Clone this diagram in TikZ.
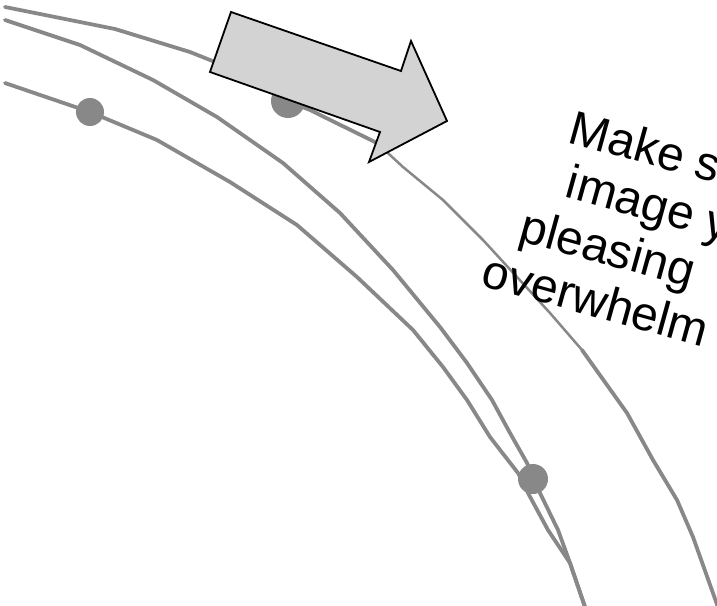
\documentclass[tikz,border=0pt]{standalone}
\usepackage{fontspec}
\setmainfont{Liberation Sans}
\definecolor{curvegray}{HTML}{888888}
\definecolor{arrowfill}{HTML}{D3D3D3}
\tikzset{
  curve/.style={draw=curvegray, line width=3.8pt, line join=round, line cap=round},
  thincurve/.style={draw=curvegray, line width=2.5pt, line join=round, line cap=round},
  dot/.style={circle, fill=curvegray, inner sep=0pt, minimum size=#1},
  bigarrow/.style={draw=black, fill=arrowfill, line width=1.8pt, line join=miter},
  caption/.style={font=\fontsize{48}{56}\selectfont, inner sep=0pt, anchor=base west, rotate=-15.5}
}
\begin{document}
\begin{tikzpicture}[x=1pt, y=-1pt]
  \path[use as bounding box] (0,0) rectangle (717,605);
  \clip (0,0) rectangle (717,605);

  % outer arc (thick ends, thinner middle stretch)
  \draw[curve] (5,7) -- (115,29) -- (190,52) -- (215,62) -- (288,101) -- (310,110) -- (377,143);
  \draw[thincurve] (377,143) -- (403,167) -- (443,200) -- (483,240) -- (517,277) -- (550,313) -- (582,350);
  \draw[curve] (582,350) -- (627,413) -- (653,460) -- (677,500) -- (693,537) -- (719,610);

  % middle arc
  \draw[curve] (5,20) -- (80,45) -- (153,80) -- (217,117) -- (283,163) -- (340,213)
    -- (393,270) -- (440,327) -- (467,363) -- (492,400) -- (510,433) -- (527,463)
    -- (540,493) -- (558,530) -- (570,563) -- (586,610);

  % inner arc
  \draw[curve] (5,83) -- (90,112) -- (157,140) -- (230,182) -- (297,225) -- (357,277)
    -- (413,330) -- (443,367) -- (467,400) -- (490,437) -- (518,473) -- (528,493)
    -- (548,530) -- (570,563) -- (586,610);

  % markers on the arcs
  \node[dot=28pt] (m1) at (90,112) {};
  \node[dot=34pt] (m2) at (288,101) {};
  \node[dot=30pt] (m3) at (533,479) {};

  % block arrow
  \draw[bigarrow] (231,12) -- (401,71) -- (411,41) -- (447,121) -- (369,162)
    -- (380,132) -- (210,72) -- cycle;

  % rotated caption
  \node[caption] (l1) at (566.6,142.0) {Make sure};
  \node[caption] (l2) at (563.7,196.7) {image you};
  \node[caption] (l3) at (517.3,240.2) {pleasing};
  \node[caption] (l4) at (479.6,285.0) {overwhelm};
\end{tikzpicture}
\end{document}
